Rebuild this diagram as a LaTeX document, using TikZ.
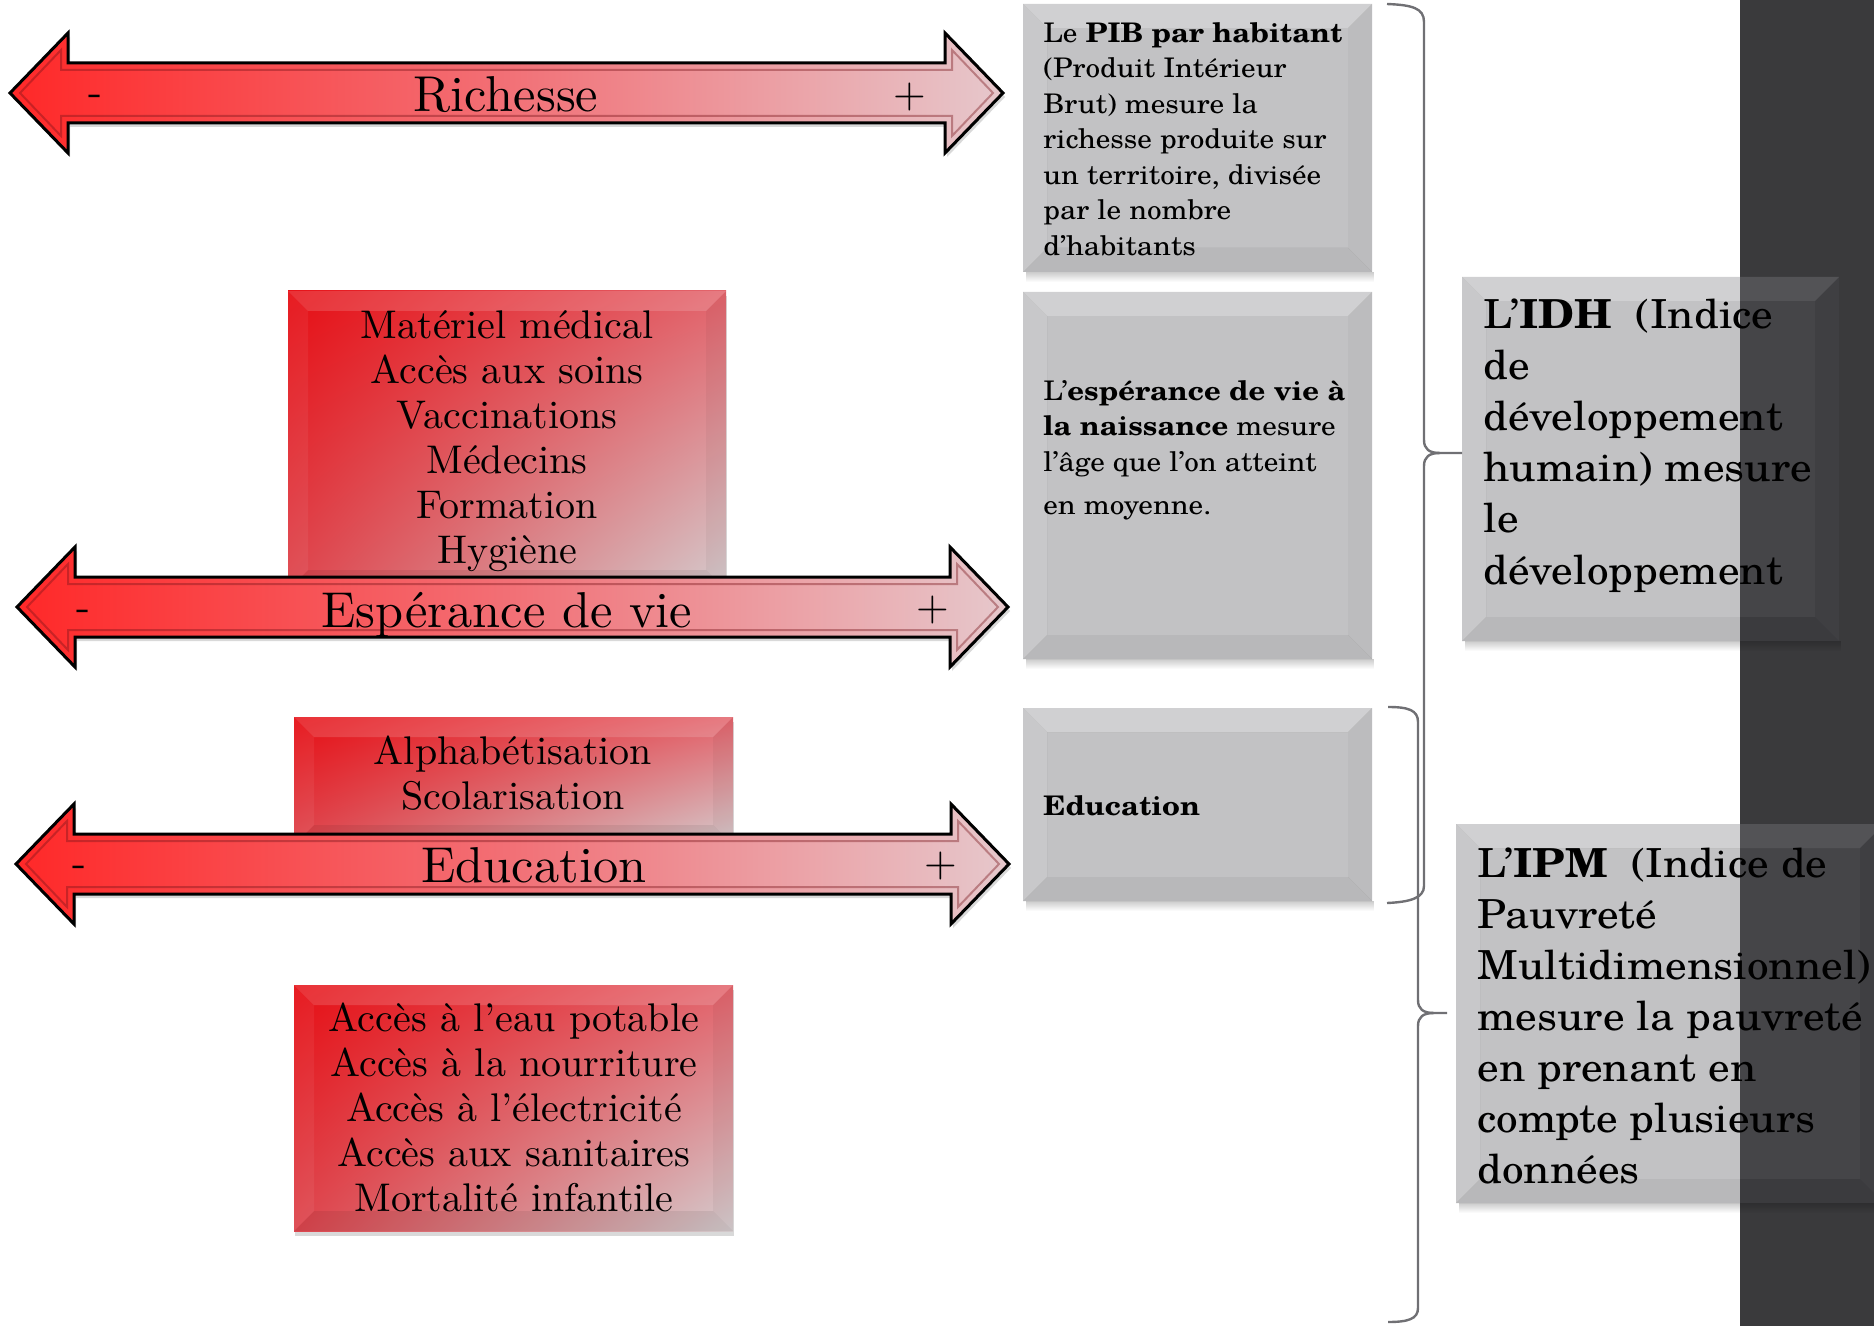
\documentclass[tikz,border=0pt]{standalone}
\usepackage{fontspec}
\setmainfont{lmroman10-regular.otf}[BoldFont=lmroman10-bold.otf, ItalicFont=lmroman10-italic.otf, BoldItalicFont=lmroman10-bolditalic.otf]
\newfontfamily\sch{texgyreschola}[Extension=.otf, UprightFont=*-regular, BoldFont=*-bold, ItalicFont=*-italic, BoldItalicFont=*-bolditalic, FakeStretch=1.08]
\usetikzlibrary{shadows,fadings,shadings}
\newdimen\px \px=0.5pt
\definecolor{bandcol}{RGB}{58,58,60}
\definecolor{gmain}{RGB}{90,90,94}
\definecolor{gtop}{RGB}{128,128,132}
\definecolor{gleft}{RGB}{106,106,110}
\definecolor{gright}{RGB}{74,74,78}
\definecolor{gbot}{RGB}{63,63,67}
\definecolor{rtl}{RGB}{230,14,20}
\definecolor{rtr}{RGB}{226,100,108}
\definecolor{rbl}{RGB}{222,70,78}
\definecolor{rbr}{RGB}{212,204,206}
\definecolor{al}{RGB}{255,40,40}
\definecolor{am}{RGB}{242,112,118}
\definecolor{ar}{RGB}{230,200,204}
\definecolor{bracecol}{RGB}{112,112,116}
\def\bev{24}
\def\gop{0.37}
\tikzset{
  gbox/.style={inner sep=0pt, outer sep=0pt, path picture={
    \path (path picture bounding box.north west) coordinate (a1)
          (path picture bounding box.north east) coordinate (a2)
          (path picture bounding box.south east) coordinate (a3)
          (path picture bounding box.south west) coordinate (a4);
    \path ([shift={(\bev,\bev)}]a1) coordinate (b1)
          ([shift={(-\bev,\bev)}]a2) coordinate (b2)
          ([shift={(-\bev,-\bev)}]a3) coordinate (b3)
          ([shift={(\bev,-\bev)}]a4) coordinate (b4);
    \fill[gmain,fill opacity=\gop] (b1) -- (b2) -- (b3) -- (b4) -- cycle;
    \fill[gtop,fill opacity=\gop] (a1) -- (a2) -- (b2) -- (b1) -- cycle;
    \fill[gright,fill opacity=\gop] (a2) -- (a3) -- (b3) -- (b2) -- cycle;
    \fill[gbot,fill opacity=\gop] (a3) -- (a4) -- (b4) -- (b3) -- cycle;
    \fill[gleft,fill opacity=\gop] (a4) -- (a1) -- (b1) -- (b4) -- cycle;
  }},
  rbox/.style={inner sep=0pt, outer sep=0pt, shade, upper left=rtl, upper right=rtr,
    lower left=rbl, lower right=rbr,
    drop shadow={shadow xshift=0.5pt, shadow yshift=-2.5pt, opacity=0.3},
    path picture={
    \path (path picture bounding box.north west) coordinate (a1)
          (path picture bounding box.north east) coordinate (a2)
          (path picture bounding box.south east) coordinate (a3)
          (path picture bounding box.south west) coordinate (a4);
    \path ([shift={(20,20)}]a1) coordinate (b1)
          ([shift={(-20,20)}]a2) coordinate (b2)
          ([shift={(-20,-20)}]a3) coordinate (b3)
          ([shift={(20,-20)}]a4) coordinate (b4);
    \fill[white,fill opacity=.15] (a1) -- (a2) -- (b2) -- (b1) -- cycle;
    \fill[black,fill opacity=.04] (a2) -- (a3) -- (b3) -- (b2) -- cycle;
    \fill[black,fill opacity=.07] (a3) -- (a4) -- (b4) -- (b3) -- cycle;
    \fill[white,fill opacity=.06] (a4) -- (a1) -- (b1) -- (b4) -- cycle;
  }},
  rtext/.style={inner sep=0pt, align=center, font=\fontsize{20}{22.5}\selectfont},
  gtext/.style={inner sep=0pt, align=left, anchor=north west, font=\sch\fontsize{13.5}{17.75}\selectfont},
  btext/.style={inner sep=0pt, align=left, anchor=north west, font=\sch\fontsize{20}{25.6}\selectfont},
  alabel/.style={inner sep=0pt, anchor=base, font=\fontsize{25.2}{30}\selectfont},
  pm/.style={inner sep=0pt, font=\fontsize{21}{24}\selectfont},
  brace/.style={draw=bracecol, line width=1.2pt},
  arrowsty/.style={left color=al, right color=ar, middle color=am, draw=black,
    line width=1.5pt, line join=miter,
    drop shadow={shadow xshift=1pt, shadow yshift=-2pt, opacity=.3}},
  arrowin/.style={draw={rgb,255:red,120;green,20;blue,26}, draw opacity=.4,
    line width=1pt, line join=miter},
  gshadow/.style={black, opacity=.2, path fading=south}
}
\newcommand\dArrow[3]{%
  \shadedraw[arrowsty] ({#1},{#3}) -- ({#1+58},{#3-60}) -- ({#1+58},{#3-30})
    -- ({#2-58},{#3-30}) -- ({#2-58},{#3-60}) -- ({#2},{#3}) -- ({#2-58},{#3+60})
    -- ({#2-58},{#3+30}) -- ({#1+58},{#3+30}) -- ({#1+58},{#3+60}) -- cycle;
  \draw[arrowin] ({#1+10},{#3}) -- ({#1+51},{#3-43}) -- ({#1+51},{#3-23})
    -- ({#2-51},{#3-23}) -- ({#2-51},{#3-43}) -- ({#2-10},{#3}) -- ({#2-51},{#3+43})
    -- ({#2-51},{#3+23}) -- ({#1+51},{#3+23}) -- ({#1+51},{#3+43}) -- cycle;
}
\begin{document}
\begin{tikzpicture}[x=0.5pt,y=-0.5pt]
\useasboundingbox (0,0) rectangle (1874,1326);
% dark band
\fill[bandcol] (1740,0) rectangle (1874,1326);
% gray boxes
\node[gbox, minimum width=349\px, minimum height=268\px] (pibbox) at (1197.5,138) {};
\node[gbox, minimum width=349\px, minimum height=367\px] (espbox) at (1197.5,475.5) {};
\node[gbox, minimum width=349\px, minimum height=193\px] (edubox) at (1197.5,804.5) {};
\node[gbox, minimum width=377\px, minimum height=364\px] (idhbox) at (1650.5,459) {};
\node[gbox, minimum width=428\px, minimum height=379\px] (ipmbox) at (1670,1013.5) {};
\fill[gshadow] ([shift={(3,0)}]pibbox.south west) rectangle ([shift={(2,10)}]pibbox.south east);
\fill[gshadow] ([shift={(3,0)}]espbox.south west) rectangle ([shift={(2,10)}]espbox.south east);
\fill[gshadow] ([shift={(3,0)}]edubox.south west) rectangle ([shift={(2,10)}]edubox.south east);
\fill[gshadow] ([shift={(3,0)}]idhbox.south west) rectangle ([shift={(2,10)}]idhbox.south east);
\fill[gshadow] ([shift={(3,0)}]ipmbox.south west) rectangle ([shift={(2,10)}]ipmbox.south east);
% gray texts
\node[gtext] (pibtxt) at (1043,22) {Le \textbf{PIB par habitant}\\(Produit Intérieur\\Brut) mesure la\\richesse produite sur\\un territoire, divisée\\par le nombre\\d’habitants};
\node[gtext] (esptxt) at (1043,380) {L’\textbf{espérance de vie à}\\\textbf{la naissance} mesure\\l’âge que l’on atteint\\[8\px]en moyenne.};
\node[gtext, anchor=base west] (edutxt) at (1043,815) {\textbf{Education}};
\node[btext] (idhtxt) at (1483,298) {L’\textbf{IDH}\ \ (Indice\\de\\développement\\humain) mesure\\le\\développement};
\node[btext, font=\sch\fontsize{20}{25.5}\selectfont] (ipmtxt) at (1477,847) {L’\textbf{IPM}\ \ (Indice de\\Pauvreté\\Multidimensionnel)\\mesure la pauvreté\\en prenant en\\compte plusieurs\\données};
% braces
\coordinate (idhin) at (1462,453);
\coordinate (ipmin) at (1447,1013);
\draw[brace] (1387,4) .. controls (1412,5) and (1424,8) .. (1424,22) -- (1424,440)
  .. controls (1424,449) and (1429,453) .. (1440,453) -- (idhin);
\draw[brace] (1440,453) .. controls (1429,453) and (1424,457) .. (1424,466) -- (1424,886)
  .. controls (1424,898) and (1410,902) .. (1387,903);
\draw[brace] (1388,707) .. controls (1408,707) and (1418,710) .. (1418,722) -- (1418,1000)
  .. controls (1418,1009) and (1423,1013) .. (1434,1013) -- (ipmin);
\draw[brace] (1434,1013) .. controls (1423,1013) and (1418,1017) .. (1418,1026) -- (1418,1308)
  .. controls (1418,1319) and (1408,1322) .. (1388,1322);
% red boxes
\node[rbox, minimum width=438\px, minimum height=299\px] (medbox) at (507,440.5) {};
\node[rbox, minimum width=439\px, minimum height=128\px] (alphbox) at (513.5,781) {};
\node[rbox, minimum width=439\px, minimum height=246\px] (accbox) at (513.5,1108) {};
\node[rtext] (medtxt) at (507,441) {Matériel médical\\Accès aux soins\\Vaccinations\\Médecins\\Formation\\Hygiène};
% arrows
\dArrow{10}{1003}{93}
\dArrow{17}{1008}{607}
\dArrow{16}{1009}{864}
\node[rtext] (alphtxt) at (513,773) {Alphabétisation\\Scolarisation};
\node[rtext] (acctxt) at (514,1107) {Accès à l’eau potable\\Accès à la nourriture\\Accès à l’électricité\\Accès aux sanitaires\\Mortalité infantile};
% arrow labels
\node[alabel] (rich) at (506,112) {Richesse};
\node[alabel] (espv) at (507,627) {Espérance de vie};
\node[alabel] (educ) at (534,882) {Education};
\node[pm] (m1) at (95,100) {-};
\node[pm] (p1) at (910,97) {+};
\node[pm] (m2) at (83,615) {-};
\node[pm] (p2) at (933,610) {+};
\node[pm] (m3) at (79,871) {-};
\node[pm] (p3) at (941,866) {+};
\end{tikzpicture}
\end{document}
